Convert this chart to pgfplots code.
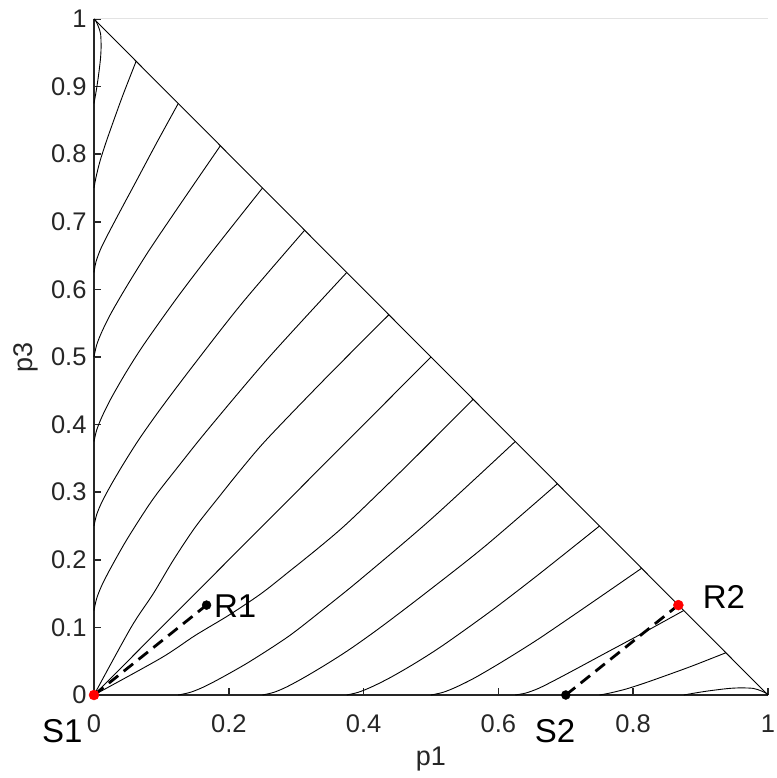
\documentclass[border=0pt]{standalone}
\usepackage{fontspec}
\setmainfont{Liberation Sans}
\usepackage{pgfplots}
\pgfplotsset{compat=1.18}
\definecolor{axgray}{HTML}{262626}
\definecolor{topgray}{HTML}{E3E3E3}
\begin{document}
\begin{tikzpicture}
\path[use as bounding box] (-94bp,-83bp) rectangle (683bp,695bp);
\begin{axis}[
  at={(0,0)}, anchor=south west,
  scale only axis, width=674bp, height=676bp,
  xmin=0, xmax=1, ymin=0, ymax=1,
  axis x line*=bottom, axis y line*=left,
  axis line style={-, draw=axgray, line width=1.6bp},
  xtick={0,0.2,0.4,0.6,0.8,1},
  xticklabels={0,0.2,0.4,0.6,0.8,1},
  ytick={0,0.1,0.2,0.3,0.4,0.5,0.6,0.7,0.8,0.9,1},
  yticklabels={0,0.1,0.2,0.3,0.4,0.5,0.6,0.7,0.8,0.9,1},
  tick align=inside, major tick length=7bp,
  tick style={draw=axgray, line width=1.6bp},
  tick label style={font=\fontsize{25.5bp}{30bp}\selectfont, text=axgray},
  /pgf/number format/assume math mode=true,
  xticklabel shift=16bp,
  yticklabel shift=4bp,
  xlabel={p1}, ylabel={p3},
  label style={font=\fontsize{27bp}{32bp}\selectfont, text=axgray},
  xlabel style={at={(axis description cs:0.5,-0.0947)}, anchor=center},
  ylabel style={at={(axis description cs:-0.1009,0.5)}, anchor=center},
  clip=false,
]
\draw[topgray, line width=1bp] (axis cs:0,1) -- (axis cs:1,1);
% hypotenuse
\addplot[black, line width=0.9bp] coordinates {(0,1) (1,0)};
% left family
\addplot[black, line width=0.9bp, smooth] coordinates {(0,0.125) (0.004,0.143) (0.012,0.163) (0.026,0.19) (0.05,0.232) (0.087,0.289) (0.125,0.338) (0.17,0.394) (0.26,0.50) (0.375,0.625)};
\addplot[black, line width=0.9bp, smooth] coordinates {(0,0.25) (0.004,0.267) (0.012,0.286) (0.026,0.312) (0.045,0.344) (0.068,0.38) (0.1,0.425) (0.15,0.491) (0.22,0.58) (0.3125,0.6875)};
\addplot[black, line width=0.9bp, smooth] coordinates {(0,0.375) (0.004,0.392) (0.012,0.412) (0.026,0.44) (0.048,0.478) (0.075,0.52) (0.125,0.59) (0.177,0.658) (0.25,0.75)};
\addplot[black, line width=0.9bp, smooth] coordinates {(0,0.5) (0.004,0.518) (0.012,0.538) (0.026,0.566) (0.05,0.607) (0.0806,0.656) (0.115,0.707) (0.152,0.761) (0.1875,0.8125)};
\addplot[black, line width=0.9bp, smooth] coordinates {(0,0.625) (0.003,0.641) (0.01,0.66) (0.022,0.684) (0.04,0.718) (0.061,0.757) (0.092,0.815) (0.125,0.875)};
\addplot[black, line width=0.9bp, smooth] coordinates {(0,0.75) (0.003,0.766) (0.009,0.79) (0.018,0.818) (0.03,0.852) (0.0435,0.889) (0.0625,0.9375)};
\addplot[black, line width=0.9bp, smooth] coordinates {(0,0.875) (0.0035,0.895) (0.0065,0.915) (0.0095,0.94) (0.0105,0.958) (0.0098,0.978) (0.006,0.99) (0.0025,0.9975) (0,1)};
% curves from the origin
\addplot[black, line width=0.9bp, smooth] coordinates {(0,0) (0.055,0.1) (0.088,0.15) (0.118,0.2) (0.15,0.248) (0.183,0.29) (0.22,0.336) (0.258,0.38) (0.345,0.47) (0.4375,0.5625)};
\addplot[black, line width=0.9bp] coordinates {(0,0) (0.5,0.5)};
\addplot[black, line width=0.9bp, smooth] coordinates {(0,0) (0.1,0.055) (0.15,0.088) (0.2,0.118) (0.248,0.15) (0.29,0.183) (0.336,0.22) (0.38,0.258) (0.47,0.345) (0.5625,0.4375)};
% bottom family
\addplot[black, line width=0.9bp, smooth] coordinates {(0.125,0) (0.143,0.004) (0.163,0.012) (0.19,0.026) (0.232,0.05) (0.289,0.087) (0.338,0.125) (0.394,0.17) (0.50,0.26) (0.625,0.375)};
\addplot[black, line width=0.9bp, smooth] coordinates {(0.25,0) (0.267,0.004) (0.286,0.012) (0.312,0.026) (0.344,0.045) (0.38,0.068) (0.425,0.1) (0.491,0.15) (0.58,0.22) (0.6875,0.3125)};
\addplot[black, line width=0.9bp, smooth] coordinates {(0.375,0) (0.392,0.004) (0.412,0.012) (0.44,0.026) (0.478,0.048) (0.52,0.075) (0.59,0.125) (0.658,0.177) (0.75,0.25)};
\addplot[black, line width=0.9bp, smooth] coordinates {(0.5,0) (0.518,0.004) (0.538,0.012) (0.566,0.026) (0.607,0.05) (0.656,0.0806) (0.707,0.115) (0.761,0.152) (0.8125,0.1875)};
\addplot[black, line width=0.9bp, smooth] coordinates {(0.625,0) (0.641,0.003) (0.66,0.01) (0.684,0.022) (0.718,0.04) (0.757,0.061) (0.815,0.092) (0.875,0.125)};
\addplot[black, line width=0.9bp, smooth] coordinates {(0.75,0) (0.766,0.003) (0.79,0.009) (0.818,0.018) (0.852,0.03) (0.889,0.0435) (0.9375,0.0625)};
\addplot[black, line width=0.9bp, smooth] coordinates {(0.875,0) (0.895,0.0035) (0.915,0.0065) (0.94,0.0095) (0.958,0.0105) (0.978,0.0098) (0.99,0.006) (0.9975,0.0025) (1,0)};
% dashed segments
\addplot[black, line width=2.8bp, dash pattern=on 12bp off 7bp] coordinates {(0,0) (0.167,0.133)};
\addplot[black, line width=2.8bp, dash pattern=on 12bp off 7bp] coordinates {(0.7,0) (0.867,0.133)};
% points
\addplot[only marks, mark=*, mark size=4.5bp, black, mark options={draw=black, fill=black}] coordinates {(0.167,0.133) (0.7,0)};
\addplot[only marks, mark=*, mark size=5bp, red, mark options={draw=red, fill=red}] coordinates {(0,0) (0.867,0.133)};
% labels
\node[anchor=west, inner sep=0pt, font=\fontsize{33bp}{38bp}\selectfont] at (axis cs:0.178,0.132) {R1};
\node[anchor=west, inner sep=0pt, font=\fontsize{33bp}{38bp}\selectfont] at (axis cs:0.903,0.145) {R2};
\node[anchor=center, inner sep=0pt, font=\fontsize{33bp}{38bp}\selectfont] at (axis cs:-0.047,-0.053) {S1};
\node[anchor=center, inner sep=0pt, font=\fontsize{33bp}{38bp}\selectfont] at (axis cs:0.684,-0.053) {S2};
\end{axis}
\end{tikzpicture}
\end{document}
